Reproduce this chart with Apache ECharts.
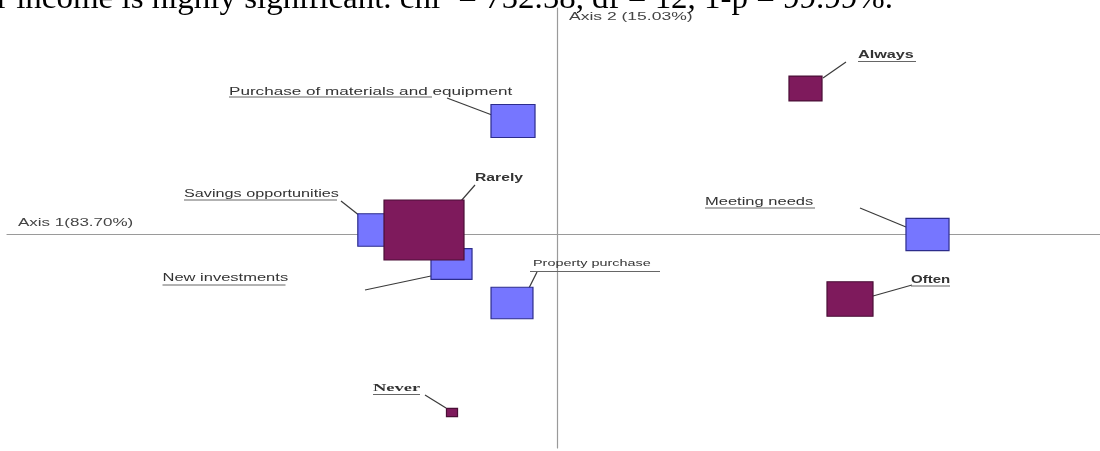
<!DOCTYPE html>
<html>
<head>
<meta charset="utf-8">
<script src="https://cdn.jsdelivr.net/npm/echarts@6/dist/echarts.min.js"></script>
<style>
  html, body { margin: 0; padding: 0; background: #fff; }
  #chart { width: 1100px; height: 451px; }
</style>
</head>
<body>
<div id="chart"></div>
<script>
// Correspondence analysis: use of income (rows) against frequency (columns)
const rowNames = ['Purchase of materials and equipment', 'Savings opportunities', 'New investments', 'Property purchase', 'Meeting needs'];
const rowAxis1 = [-0.088, -0.355, -0.211, -0.090, 0.741];
const rowAxis2 = [0.226, 0.008, -0.060, -0.138, -0.001];
const rowMass  = [20.6, 20.0, 17.9, 18.7, 19.7];

const colNames = ['Always', 'Often', 'Rarely', 'Never'];
const colAxis1 = [0.497, 0.586, -0.266, -0.210];
const colAxis2 = [0.291, -0.130, 0.008, -0.357];
const colMass  = [11.6, 22.5, 68.0, 1.3];

const axisTitles = ['Axis 1(83.70%)', 'Axis 2 (15.03%)'];
const noteText = 'r income is highly significant. chi\u00B2 = 752.58, df = 12, 1-p = 99.99%.';

// Label placement around each mark (pixel offsets from the mark centre)
const SANS = '"Liberation Sans", Arial, sans-serif';
const labelPlacement = {
  'Purchase of materials and equipment': { dx: -284, dy: -29, ul: [-284, -81, -24], lead: [-66, -23, -21, -6], sx: 1.71 },
  'Savings opportunities': { dx: -195.5, dy: -36, ul: [-195.5, -42.5, -30], lead: [-38.5, -29, -19.5, -14], sx: 1.62 },
  'New investments': { dx: -289, dy: 14.5, ul: [-289, -166, 21], lead: [-86.5, 26, -20.5, 12] },
  'Property purchase': { dx: 21, dy: -39, ul: [18, 148, -31.5], lead: [25, -31, 17, -15], font: '9px ' + SANS, sx: 1.6 },
  'Meeting needs': { dx: -222.5, dy: -32.5, ul: [-222.5, -112.5, -26.5], lead: [-67.5, -26.5, -21.5, -7.5] },
  'Always': { dx: 52.5, dy: -33.5, ul: [52.5, 110.5, -27], lead: [40.5, -26.5, 17.5, -10.5], font: 'bold 10px ' + SANS, sx: 1.62 },
  'Often': { dx: 61, dy: -19, ul: [61, 100, -13], lead: [23, -3, 62, -14], font: 'bold 10px ' + SANS, sx: 1.5 },
  'Rarely': { dx: 51, dy: -52, lead: [51, -45, 37, -29], font: 'bold 10px ' + SANS, sx: 1.57 },
  'Never': { dx: -79, dy: -24.5, ul: [-79, -32, -18], lead: [-27, -17.5, -6, -4.5], font: 'bold 11px "Liberation Serif", serif', sx: 1.68 }
};

const SIZE_K = 9.7;     // box width per sqrt(mass)
const ASPECT = 0.75;    // box height / width

function makeRenderer(names, fill, stroke) {
  return function (params, api) {
    const c = api.coord([api.value(0), api.value(1)]);
    const w = SIZE_K * Math.sqrt(api.value(2));
    const h = w * ASPECT;
    const name = names[params.dataIndex];
    const p = labelPlacement[name];
    const children = [];
    children.push({
      type: 'line',
      shape: { x1: c[0] + p.lead[0], y1: c[1] + p.lead[1], x2: c[0] + p.lead[2], y2: c[1] + p.lead[3] },
      style: { stroke: '#3a3a3a', lineWidth: 1.2 }
    });
    if (p.ul) {
      children.push({
        type: 'line',
        shape: { x1: c[0] + p.ul[0], y1: c[1] + p.ul[2], x2: c[0] + p.ul[1], y2: c[1] + p.ul[2] },
        style: { stroke: '#666', lineWidth: 1 }
      });
    }
    children.push({
      type: 'text',
      x: c[0] + p.dx,
      y: c[1] + p.dy,
      scaleX: p.sx || 1.65,
      style: {
        text: name, x: 0, y: 0,
        font: p.font || ('10px ' + SANS),
        fill: '#333', align: 'left', verticalAlign: 'middle'
      }
    });
    children.push({
      type: 'rect',
      shape: { x: c[0] - w / 2, y: c[1] - h / 2, width: w, height: h },
      style: { fill: fill, stroke: stroke, lineWidth: 1.2 }
    });
    return { type: 'group', children: children };
  };
}

function seriesData(a1, a2, mass) {
  return a1.map((v, i) => [v, a2[i], mass[i]]);
}

const chart = echarts.init(document.getElementById('chart'));
chart.setOption({
  animation: false,
  backgroundColor: '#fff',
  grid: { left: 7, right: 0, top: 8, bottom: 3 },
  xAxis: {
    type: 'value', min: -1.1, max: 1.086,
    axisLine: { onZero: true, lineStyle: { color: '#9a9a9a', width: 1.2 } },
    axisTick: { show: false }, axisLabel: { show: false }, splitLine: { show: false }
  },
  yAxis: {
    type: 'value', min: -0.428, max: 0.452,
    axisLine: { onZero: true, lineStyle: { color: '#9a9a9a', width: 1.2 } },
    axisTick: { show: false }, axisLabel: { show: false }, splitLine: { show: false }
  },
  graphic: [
    {
      type: 'text', x: -3, y: 0, scaleX: 1.03,
      style: { text: noteText, x: 0, y: 0, font: '32px "Liberation Serif", "Times New Roman", serif', fill: '#000', align: 'left', verticalAlign: 'middle' }
    },
    {
      type: 'text', x: 18, y: 223, scaleX: 1.7,
      style: { text: axisTitles[0], x: 0, y: 0, font: '10px ' + SANS, fill: '#444', align: 'left', verticalAlign: 'middle' }
    },
    {
      type: 'text', x: 569, y: 17.5, scaleX: 1.75,
      style: { text: axisTitles[1], x: 0, y: 0, font: '10px ' + SANS, fill: '#444', align: 'left', verticalAlign: 'middle' }
    }
  ],
  series: [
    {
      name: 'Use of income', type: 'custom', coordinateSystem: 'cartesian2d',
      renderItem: makeRenderer(rowNames, '#7676ff', '#2c2c8c'),
      data: seriesData(rowAxis1, rowAxis2, rowMass), z: 2
    },
    {
      name: 'Frequency', type: 'custom', coordinateSystem: 'cartesian2d',
      renderItem: makeRenderer(colNames, '#7e1a5c', '#4a0f36'),
      data: seriesData(colAxis1, colAxis2, colMass), z: 3
    }
  ]
});
</script>
</body>
</html>
